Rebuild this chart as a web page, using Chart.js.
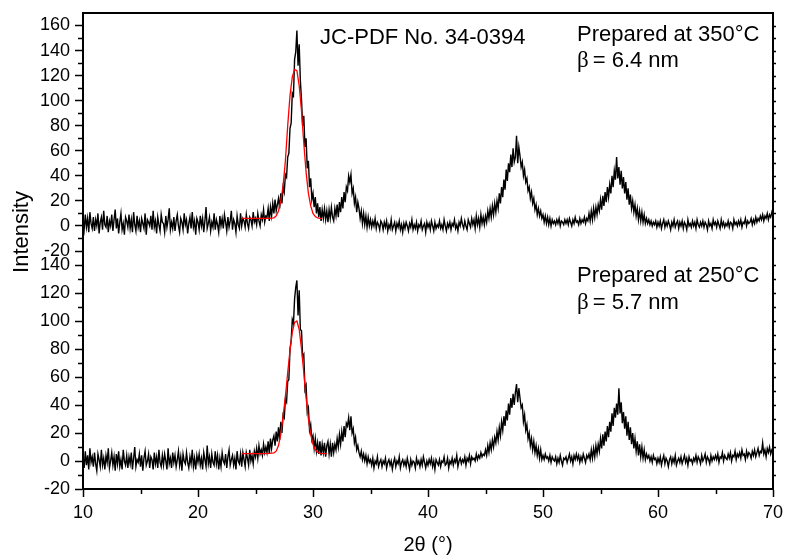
<!DOCTYPE html>
<html><head><meta charset="utf-8">
<script src="https://cdn.jsdelivr.net/npm/chart.js@4.4.1/dist/chart.umd.min.js"></script>
<style>html,body{margin:0;padding:0;background:#fff;}canvas{display:block;}</style>
</head><body>
<canvas id="c" width="787" height="560"></canvas>
<script>
// scan grid: 10.0° to 70.0° in 0.1° steps
const scanStart = 10, scanStep = 0.1;

// Prepared at 350 °C (top panel), one row per degree
const intensity350 = [
 4,-3,9,-1,6,-5,11,2,-2,7,
 -4,5,0,10,-6,3,7,-3,12,1,
 -1,8,-5,4,0,9,-4,5,13,-2,
 6,-6,3,10,-3,2,-7,7,4,-1,
 9,-2,5,-5,11,1,-4,8,-1,4,
 -5,6,2,-2,10,-7,5,3,0,8,
 -3,12,-1,4,-6,7,1,-4,9,3,
 2,-5,8,-1,5,14,-3,3,-2,7,
 -4,4,9,0,-5,6,3,-3,10,1,
 5,-6,2,7,-2,11,-1,4,-7,6,
 3,-3,8,0,6,-5,4,15,-2,2,
 7,-4,3,-1,10,-3,5,1,-5,8,
 0,6,-2,9,3,-4,7,-1,4,12,
 -3,5,2,-5,8,1,-2,10,0,6,
 4,-1,9,2,-2,7,5,0,11,3,
 6,1,10,4,0,9,5,13,3,8,
 7,14,4,15,8,18,10,21,12,17,
 22,14,26,18,31,27,41,39,55,58,
 78,82,106,104,133,139,156,128,145,116,
 101,80,88,63,70,46,52,31,38,21,
 26,15,23,10,18,7,15,4,13,6,
 14,5,12,3,13,6,15,7,4,14,
 8,17,7,19,11,23,14,27,19,31,
 28,40,35,41,26,30,18,23,11,19,
 14,6,12,2,10,1,8,-1,7,0,
 5,-1,4,0,6,-2,3,1,-3,4,
 2,-3,3,-1,4,-4,1,-2,5,-3,
 0,3,-4,2,-1,4,-3,1,-5,2,
 -2,3,0,-4,2,-1,5,-3,1,-2,
 3,-4,1,-1,4,-3,0,2,-5,3,
 -1,2,-3,4,0,-4,3,-2,1,-1,
 4,-2,1,-3,5,0,-4,2,-1,3,
 -3,2,0,5,-2,1,-4,3,0,6,
 1,-2,4,0,-3,5,2,-1,6,1,
 5,-2,8,1,6,-1,9,2,7,1,
 8,3,12,6,14,7,16,9,18,11,
 20,14,26,18,31,23,37,29,45,36,
 50,43,57,47,62,51,55,72,50,63,
 56,47,51,40,45,35,38,28,31,22,
 27,18,22,13,17,9,14,8,12,6,
 9,3,8,2,7,1,6,0,5,2,
 4,1,5,2,6,0,4,3,1,5,
 2,5,1,6,3,0,5,2,7,3,
 4,1,6,2,5,3,7,2,6,4,
 10,4,12,5,14,7,15,9,17,12,
 21,13,24,16,27,19,31,23,33,26,
 40,31,44,37,55,38,47,33,44,30,
 39,26,35,21,30,17,25,14,20,11,
 17,8,14,5,12,4,11,3,9,2,
 6,2,5,1,4,0,3,1,4,-1,
 3,0,4,-2,2,5,-1,3,0,4,
 1,-3,3,0,5,-1,2,4,-2,3,
 0,4,-2,3,1,-3,5,0,2,-1,
 4,0,3,-2,5,1,-1,3,0,4,
 -1,3,1,-3,4,0,2,-2,5,1,
 3,-1,4,1,-2,5,0,3,-1,2,
 0,4,-1,3,2,-2,5,1,3,0,
 4,1,5,-1,3,2,6,0,4,2,
 3,6,1,5,2,7,3,6,4,8,
 5,9,4,8,6,10,5,9,7,11,
 8
];

// Prepared at 250 °C (bottom panel)
const intensity250 = [
 2,-5,7,-3,4,-6,9,-1,3,-4,
 6,-2,-7,5,1,-4,8,-3,2,-6,
 4,-1,9,-5,0,6,-3,3,-7,5,
 -2,7,-4,1,-6,8,0,-3,4,-5,
 3,-2,6,-6,2,10,-4,1,-1,5,
 -4,4,-7,2,7,-3,0,5,-5,3,
 1,-6,6,-2,3,-5,8,-1,-4,4,
 -3,5,0,-6,9,-2,2,-5,6,-1,
 4,-4,1,7,-3,3,-7,5,0,-2,
 6,-1,-5,3,-2,8,-4,2,-6,4,
 -1,5,-3,2,-6,6,1,-4,11,-2,
 3,-5,5,-1,-3,7,-2,4,-6,2,
 -4,6,0,-2,5,-5,3,8,-3,1,
 4,-3,2,-6,7,0,-2,5,-4,6,
 1,-4,6,2,-3,8,0,4,-2,7,
 3,9,2,11,5,8,4,12,6,10,
 6,14,5,16,9,15,18,11,21,14,
 24,15,28,20,33,31,44,42,57,58,
 80,86,101,98,116,124,129,104,122,94,
 93,74,76,51,54,35,38,22,26,15,
 18,9,16,7,13,5,14,4,12,6,
 13,3,11,14,5,12,3,13,6,12,
 8,16,10,19,12,21,14,25,17,27,
 25,31,22,32,20,23,13,17,8,11,
 6,3,7,1,5,0,4,-2,3,-1,
 1,-3,2,-5,0,-2,3,-4,-1,1,
 -4,0,-2,2,-5,-1,1,-3,0,-6,
 -1,2,-4,0,-2,3,-5,-1,1,-3,
 0,-4,2,-2,-6,1,-3,0,-1,-5,
 2,-2,0,-4,1,-3,3,-1,-5,0,
 -3,1,-2,2,-4,0,-6,1,-1,-3,
 1,-4,0,-1,3,-3,-2,2,-5,0,
 -2,2,-3,1,-1,4,-4,0,2,-2,
 1,-1,3,-3,2,0,4,-2,3,1,
 2,0,5,1,4,2,6,3,5,4,
 8,4,11,6,13,8,15,10,17,13,
 21,15,24,18,28,22,32,25,36,29,
 41,33,45,38,48,40,49,55,42,52,
 45,38,40,28,33,22,26,16,20,11,
 16,8,14,6,11,4,9,2,8,1,
 4,1,5,2,3,0,4,-1,3,1,
 0,3,-2,2,-1,4,0,-3,2,1,
 3,-1,2,5,0,3,-2,4,1,5,
 1,4,-1,3,0,5,2,-1,4,2,
 5,1,8,2,9,3,11,5,12,7,
 16,9,19,11,21,14,25,17,28,21,
 34,25,38,31,41,33,52,34,42,27,
 35,23,32,18,28,15,24,12,20,9,
 16,7,14,4,12,3,10,2,8,1,
 5,2,4,0,3,-1,4,1,2,-2,
 2,-1,3,-3,1,4,-2,2,0,-4,
 1,3,-2,2,-1,4,-3,0,2,-1,
 3,-2,1,4,-1,2,-3,3,0,1,
 -2,2,0,4,-1,3,1,-2,4,0,
 2,5,-1,3,1,-2,4,0,3,1,
 4,1,5,-1,3,2,6,0,4,2,
 1,5,2,6,0,4,3,7,1,5,
 3,6,2,8,4,5,1,7,3,6,
 5,2,7,4,8,3,6,9,4,7,
 6,13,5,8,3,9,6,10,5,8,
 7
];

// Peak fits (red)
const fit350X = [23.8,24.4,25.0,25.6,26.2,26.6,26.8,27.0,27.2,27.4,27.6,27.8,28.0,28.2,28.4,28.6,28.8,29.0,29.2,29.4,29.6,29.8,30.0,30.2,30.4,30.6,30.8];
const fit350Y = [6,6,6,6,6.1,6.5,8,12,20,32,52,80,104,119,125,124,112,92,66,43,26,16,10,7.5,6.5,6,6];
const fit250X = [23.8,24.4,25.0,25.6,26.2,26.6,26.8,27.0,27.2,27.4,27.6,27.8,28.0,28.2,28.4,28.6,28.8,29.0,29.2,29.4,29.6,29.8,30.0,30.2,30.4,30.6,30.8,31.0,31.2];
const fit250Y = [5.3,5.3,5.3,5.3,5.4,5.8,7,11,19,32,46,63,79,92,99,100,94,80,63,45,30,19,12,8,6.3,5.6,5.4,5.3,5.3];

// tick labels
const xTickValues = [10,20,30,40,50,60,70];
const topTickValues = [-20,0,20,40,60,80,100,120,140,160];
const bottomTickValues = [-20,0,20,40,60,80,100,120,140];

const twoTheta = intensity350.map((_, i) => +(scanStart + i * scanStep).toFixed(1));
const pts = (xs, ys) => ys.map((y, i) => ({x: xs[i], y}));

const FONT = "'Liberation Sans', Arial, sans-serif";

function yAxis(tickVals, min, max) {
  return {
    type: 'linear', position: 'left', stack: 'panels', stackWeight: 1, min, max,
    afterBuildTicks: s => { s.ticks = tickVals.map(v => ({value: v})); },
    afterFit: s => { s.width = 83; s.paddingTop = 0; s.paddingBottom = 0; },
    border: {display: true, color: '#000', width: 2},
    grid: {display: true, drawOnChartArea: false, drawTicks: true, tickLength: 8, tickWidth: 1.5, tickColor: '#000'},
    ticks: {color: '#000', font: {family: FONT, size: 18}, padding: 5, autoSkip: false}
  };
}

const framePlugin = {
  id: 'frame',
  afterDraw(chart) {
    const {ctx, chartArea: {left, right, top, bottom}} = chart;
    const sx = chart.scales.x;
    ctx.save();
    ctx.strokeStyle = '#000';
    ctx.lineWidth = 2;
    ctx.beginPath();
    ctx.moveTo(left - 1, top); ctx.lineTo(right, top); ctx.lineTo(right, bottom + 1);
    ctx.stroke();
    ctx.lineWidth = 1.5;
    const panels = [[chart.scales.yTop, topTickValues], [chart.scales.yBot, bottomTickValues]];
    for (const [s, majors] of panels) {
      for (let v = s.min; v < s.max; v += 10) {
        const py = Math.round(s.getPixelForValue(v)) + 0.5;
        if (!majors.includes(v)) {
          ctx.beginPath(); ctx.moveTo(left - 5, py); ctx.lineTo(left, py); ctx.stroke();
        }
        if (v > s.min) {
          ctx.beginPath(); ctx.moveTo(right, py); ctx.lineTo(right + 3, py); ctx.stroke();
        }
      }
    }
    for (let v = 15; v < 70; v += 10) {
      const px = Math.round(sx.getPixelForValue(v)) + 0.5;
      ctx.beginPath(); ctx.moveTo(px, bottom); ctx.lineTo(px, bottom + 5); ctx.stroke();
    }
    // annotations
    ctx.fillStyle = '#000';
    ctx.textBaseline = 'alphabetic';
    ctx.textAlign = 'left';
    ctx.font = '22px ' + FONT;
    ctx.fillText('JC-PDF No. 34-0394', 320, 44);
    ctx.fillText('Prepared at 350°C', 577, 41);
    ctx.fillText('Prepared at 250°C', 577, 282);
    const beta = (txt, x, y) => {
      ctx.font = "23px 'Liberation Serif', serif";
      ctx.fillText('β', x, y);
      const w = ctx.measureText('β').width;
      ctx.font = '22px ' + FONT;
      ctx.fillText(txt, x + w + 4, y);
    };
    beta('= 6.4 nm', 577, 67);
    beta('= 5.7 nm', 577, 309);
    // y title
    ctx.translate(22, 232);
    ctx.rotate(-Math.PI / 2);
    ctx.textAlign = 'center';
    ctx.textBaseline = 'middle';
    ctx.font = '22px ' + FONT;
    ctx.fillText('Intensity', 0, 0);
    ctx.restore();
  }
};

new Chart(document.getElementById('c'), {
  type: 'line',
  data: {
    datasets: [
      {data: pts(fit350X, fit350Y), yAxisID: 'yTop', borderColor: '#ff0000', borderWidth: 1.3, pointRadius: 0, tension: 0},
      {data: pts(fit250X, fit250Y), yAxisID: 'yBot', borderColor: '#ff0000', borderWidth: 1.3, pointRadius: 0, tension: 0},
      {data: pts(twoTheta, intensity350), yAxisID: 'yTop', borderColor: '#000', borderWidth: 1.4, pointRadius: 0, tension: 0},
      {data: pts(twoTheta, intensity250), yAxisID: 'yBot', borderColor: '#000', borderWidth: 1.4, pointRadius: 0, tension: 0}
    ]
  },
  options: {
    responsive: false,
    devicePixelRatio: 1,
    animation: false,
    layout: {padding: {top: 13, right: 14, bottom: 0, left: 0}},
    plugins: {legend: {display: false}, tooltip: {enabled: false}},
    scales: {
      x: {
        type: 'linear', position: 'bottom', min: 10, max: 70,
        afterBuildTicks: s => { s.ticks = xTickValues.map(v => ({value: v})); },
        afterFit: s => { s.height = 71; s.paddingLeft = 0; s.paddingRight = 0; },
        border: {display: true, color: '#000', width: 2},
        grid: {display: true, drawOnChartArea: false, drawTicks: true, tickLength: 8, tickWidth: 1.5, tickColor: '#000'},
        ticks: {color: '#000', font: {family: FONT, size: 18}, padding: 5, autoSkip: false, maxRotation: 0},
        title: {display: true, text: '2θ (°)', color: '#000', font: {family: FONT, size: 20}, padding: {top: 0, bottom: 3}}
      },
      yBot: yAxis(bottomTickValues, -20, 150),
      yTop: yAxis(topTickValues, -20, 170)
    }
  },
  plugins: [framePlugin]
});
</script>
</body></html>
